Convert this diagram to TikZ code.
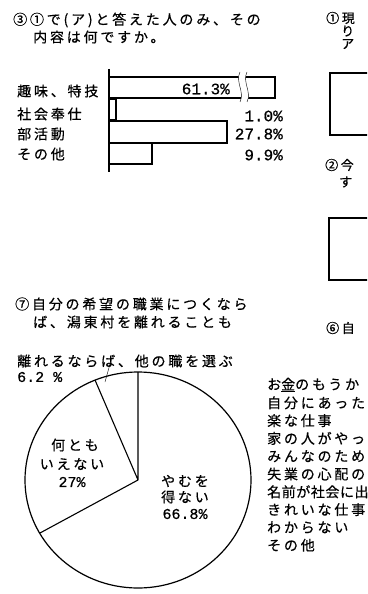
\documentclass[tikz,border=0pt]{standalone}
\usepackage{fontspec}
\setmainfont{Noto Sans CJK JP}[LetterSpace=20, FakeBold=0.5]
\newfontfamily\numfont{Liberation Mono}[FakeBold=0.6]
\tikzset{>=stealth}

\begin{document}
\begin{tikzpicture}[x=1pt, y=-1pt,
  txt/.style={anchor=west, inner sep=0pt, font=\fontsize{14}{16}\selectfont},
  small/.style={anchor=west, inner sep=0pt, font=\fontsize{13}{15}\selectfont},
  num/.style={anchor=east, inner sep=0pt, font=\numfont\fontsize{16}{18}\selectfont},
  pienum/.style={inner sep=0pt, font=\numfont\fontsize{15}{17}\selectfont},
  bar/.style={draw, line width=1.2pt}]
\useasboundingbox (0,0) rectangle (367,594);
\clip (0,0) rectangle (367,594);

% question 3 with bar chart
\node[txt] (q3a) at (13,20) {③①で(ア)と答えた人のみ、その};
\node[txt] (q3b) at (33,37) {内容は何ですか。};
\node[txt] (hobby) at (17,91) {趣味、特技};
\node[txt] (social) at (17,114) {社会奉仕};
\node[txt] (club) at (17,134) {部活動};
\node[txt] (other) at (17,154) {その他};
\draw[line width=1.1pt] (109,69) -- (109,172);
\draw[bar] (109,77) rectangle (275,98);
\fill[white] (240,72) .. controls (235,82) and (245,92) .. (240,102)
  -- (247,102) .. controls (252,92) and (242,82) .. (247,72) -- cycle;
\draw (240,72) .. controls (235,82) and (245,92) .. (240,102);
\draw (247,72) .. controls (242,82) and (252,92) .. (247,102);
\draw[bar] (109,99) rectangle (116,120);
\draw[bar] (109,121) rectangle (227,143);
\draw[bar] (109,143) rectangle (152,164);
\node[num] (vhobby) at (230,89) {61.3\%};
\node[num] (vsocial) at (283,116) {1.0\%};
\node[num] (vclub) at (283,134) {27.8\%};
\node[num] (vother) at (283,155) {9.9\%};

% right column, cut by the page edge
\node[small] (q1a) at (326,18) {①現};
\node[small] (q1b) at (341,31) {り};
\node[small] (q1c) at (341,44) {ア};
\draw[bar] (330,73) rectangle (380,135);
\node[small] (q2a) at (325,165) {②今};
\node[small] (q2b) at (339,182) {す};
\draw[bar] (329,218) rectangle (380,280);
\node[small] (q6) at (326,328) {⑥自};

% question 7 with pie chart
\node[txt] (q7a) at (15,304) {⑦自分の希望の職業につくなら};
\node[txt] (q7b) at (33,322) {ば、潟東村を離れることも};
\node[txt] (leave) at (17,361) {離れるならば、他の職を選ぶ};
\node[pienum, anchor=west] (vleave) at (17,377) {6.2 \%};
\coordinate (pc) at (138,480);
\coordinate (p1) at (138,372);
\coordinate (p2) at (95,380);
\coordinate (p3) at (40,533);
\draw[line width=1.2pt] (pc) ellipse [x radius=113pt, y radius=108pt];
\draw[line width=1.1pt] (pc) -- (p1) (pc) -- (p2) (pc) -- (p3);
\draw (110,364) -- (105,382);
\node[txt, anchor=center] (neither1) at (75,445) {何とも};
\node[txt, anchor=center] (neither2) at (72,464) {いえない};
\node[pienum] (vneither) at (72,482) {27\%};
\node[txt, anchor=center] (must1) at (185,481) {やむを};
\node[txt, anchor=center] (must2) at (185,497) {得ない};
\node[pienum] (vmust) at (185,514) {66.8\%};

% list of question 6
\foreach \t [count=\i from 0] in {お\underline{金}のもうか, 自分にあった, 楽な仕事,
    家の人がやっ, みんなのため, 失業の心配の,
    \addfontfeature{LetterSpace=4}名前が社会に出,
    きれいな仕事, わからない, その他}
  \node[txt] (r\i) at (267,385+17.8*\i) {\t};
\end{tikzpicture}
\end{document}
